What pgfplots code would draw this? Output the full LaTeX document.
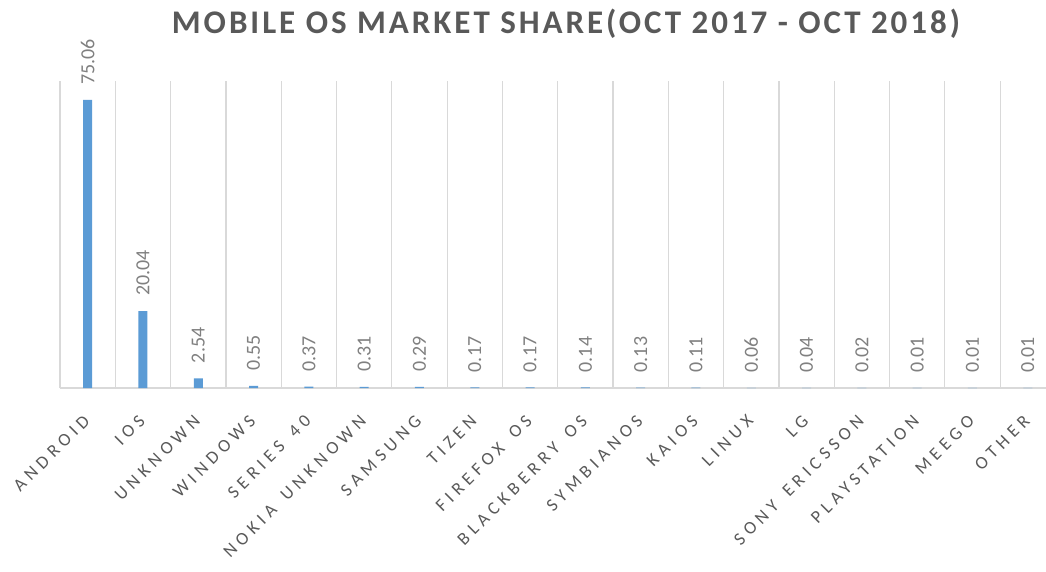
\documentclass[border=0pt]{standalone}
\usepackage{pgfplots}
\pgfplotsset{compat=1.18}
\usepackage{fontspec}
\setmainfont{Carlito}
\newfontfamily\tickfont[LetterSpace=27,WordSpace=1.5]{Carlito}
\newfontfamily\titlefont[LetterSpace=9]{Carlito}
\definecolor{barblue}{HTML}{5B9BD5}
\definecolor{txtgray}{HTML}{595959}
\definecolor{lblgray}{HTML}{808080}
\definecolor{gridgray}{HTML}{D9D9D9}
\begin{document}
\begin{tikzpicture}[x=1pt,y=1pt]
\useasboundingbox (0,0) rectangle (1046,571);
\node[anchor=base, text=txtgray, font=\titlefont\fontsize{33}{36}\selectfont\bfseries] at (566,537) {MOBILE OS MARKET SHARE(OCT 2017 - OCT 2018)};
\begin{axis}[
  at={(60pt,183pt)}, anchor=south west,
  scale only axis, width=995.4pt, height=307pt,
  xmin=-0.5, xmax=17.5, ymin=0, ymax=80,
  axis x line*=bottom, hide y axis,
  x axis line style={-, draw=gridgray, line width=1.2pt},
  xtick={0,...,17},
  xticklabels={ANDROID,IOS,UNKNOWN,WINDOWS,SERIES 40,NOKIA UNKNOWN,SAMSUNG,TIZEN,FIREFOX OS,BLACKBERRY OS,SYMBIANOS,KAIOS,LINUX,LG,SONY ERICSSON,PLAYSTATION,MEEGO,OTHER},
  major tick length=0pt, minor tick length=0pt,
  minor xtick={-0.5,0.5,...,17.5},
  xminorgrids, minor grid style={draw=gridgray, line width=1.2pt},
  ytick=\empty,
  xticklabel style={font=\tickfont\fontsize{18}{20}\selectfont, text=txtgray, inner sep=0pt, xshift=-1pt, yshift=-30pt, rotate=45, anchor=east},
  ybar, bar width=9pt,
  nodes near coords={\pgfmathprintnumber[fixed,fixed zerofill,precision=2,assume math mode=true]{\pgfplotspointmeta}},
  nodes near coords style={rotate=90, anchor=west, inner xsep=15pt, font=\fontsize{20}{22}\selectfont, text=lblgray},
  clip=false,
]
\addplot[fill=barblue, draw=none] coordinates {
(0,75.06) (1,20.04) (2,2.54) (3,0.55) (4,0.37) (5,0.31) (6,0.29) (7,0.17) (8,0.17)
(9,0.14) (10,0.13) (11,0.11) (12,0.06) (13,0.04) (14,0.02) (15,0.01) (16,0.01) (17,0.01)};
\end{axis}
\end{tikzpicture}
\end{document}
